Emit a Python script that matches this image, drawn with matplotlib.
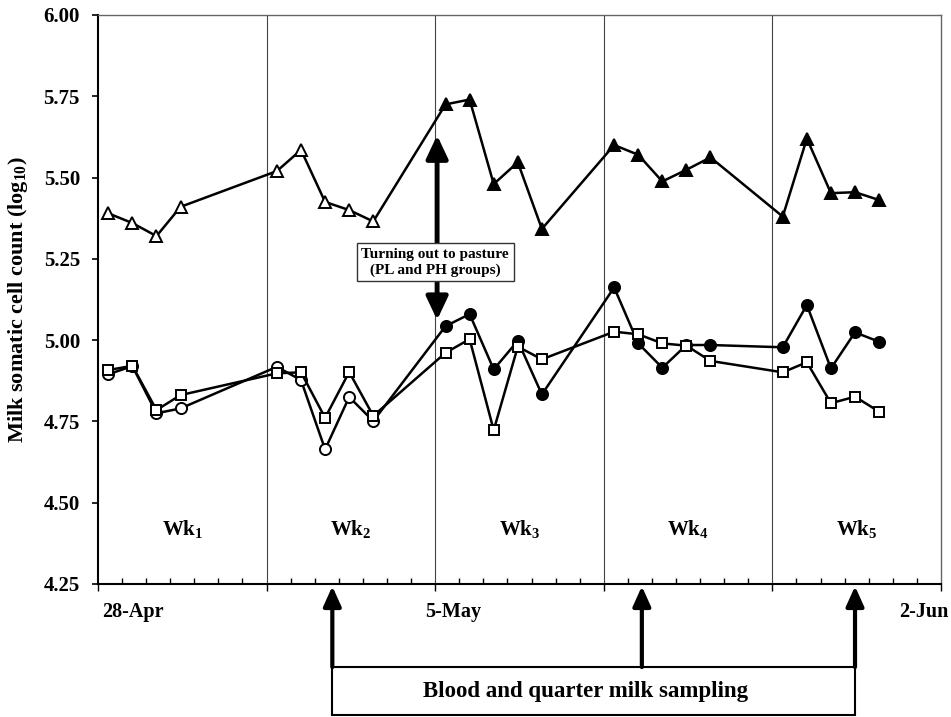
import numpy as np
import matplotlib
matplotlib.use('Agg')
import matplotlib.pyplot as plt
from matplotlib.patches import Rectangle

plt.rcParams['font.family'] = ['Liberation Serif', 'DejaVu Serif']
plt.rcParams['font.weight'] = 'bold'
plt.rcParams['mathtext.fontset'] = 'custom'
plt.rcParams['mathtext.rm'] = 'Liberation Serif:bold'
plt.rcParams['mathtext.bf'] = 'Liberation Serif:bold'
plt.rcParams['mathtext.it'] = 'Liberation Serif:bold'

# sampling days (days after start of trial)
days = [0, 1, 2, 3, 7, 8, 9, 10, 11, 14, 15, 16, 17, 18, 21, 22, 23, 24, 25, 28, 29, 30, 31, 32]

triangles = [5.39, 5.36, 5.32, 5.41, 5.52, 5.585, 5.425, 5.40, 5.365,
             5.725, 5.74, 5.48, 5.547, 5.342,
             5.60, 5.57, 5.488, 5.524, 5.562,
             5.38, 5.62, 5.452, 5.455, 5.431]
circles = [4.895, 4.92, 4.775, 4.79, 4.918, 4.877, 4.664, 4.825, 4.751,
           5.043, 5.08, 4.91, 4.998, 4.833,
           5.162, 4.99, 4.915, 4.985, 4.985,
           4.978, 5.108, 4.913, 5.024, 4.995]
squares = [4.908, 4.921, 4.785, 4.831, 4.898, 4.901, 4.761, 4.902, 4.767,
           4.961, 5.003, 4.723, 4.98, 4.941,
           5.026, 5.018, 4.99, 4.983, 4.936,
           4.901, 4.932, 4.806, 4.826, 4.78]

turnout_day = 13.65
turnout_span = [5.062, 5.63]
sampling_days = [9.3, 22.15, 31.0]

week_labels = ['Wk$_1$', 'Wk$_2$', 'Wk$_3$', 'Wk$_4$', 'Wk$_5$']
date_labels = ['28-Apr', '5-May', '2-Jun']
date_label_pos = [1.0, 14.3, 33.85]

x0 = -0.43
xmax = x0 + 35
week_edges = [x0 + 7 * k for k in range(6)]

fig = plt.figure(figsize=(9.51, 7.17), dpi=100)
ax = fig.add_axes([0.1030, 0.1855, 0.8865, 0.7936])

for edge in week_edges[1:-1]:
    ax.axvline(edge, color='#444444', lw=0.8, zorder=1)

days_arr = np.array(days)
after = days_arr > turnout_day

# triangle series
ax.plot(days, triangles, color='black', lw=1.8, zorder=3)
ax.plot(days_arr[~after], np.array(triangles)[~after], ls='none', marker='^', ms=9,
        mfc='white', mec='black', mew=1.4, zorder=4)
ax.plot(days_arr[after], np.array(triangles)[after], ls='none', marker='^', ms=9,
        mfc='black', mec='black', mew=1.4, zorder=4)

# circle series
ax.plot(days, circles, color='black', lw=1.8, zorder=3)
ax.plot(days_arr[~after], np.array(circles)[~after], ls='none', marker='o', ms=8,
        mfc='white', mec='black', mew=1.4, zorder=4)
ax.plot(days_arr[after], np.array(circles)[after], ls='none', marker='o', ms=8,
        mfc='black', mec='black', mew=1.4, zorder=4)

# square series
ax.plot(days, squares, color='black', lw=1.8, zorder=5)
ax.plot(days, squares, ls='none', marker='s', ms=7.5,
        mfc='white', mec='black', mew=1.4, zorder=6)

ax.set_xlim(x0, xmax)
ax.set_ylim(4.25, 6.00)
ax.set_yticks(np.arange(4.25, 6.01, 0.25))
ax.set_yticklabels(['%.2f' % v for v in np.arange(4.25, 6.01, 0.25)])
ax.tick_params(axis='y', direction='out', length=4, width=1.2, labelsize=15, pad=9)

ax.set_xticks(week_edges)
ax.set_xticklabels([])
ax.set_xticks(np.arange(x0, xmax + 0.01, 1), minor=True)
ax.tick_params(axis='x', which='major', direction='out', length=5, width=1)
ax.tick_params(axis='x', which='minor', direction='in', length=4, width=1)

for lbl, pos in zip(date_labels, date_label_pos):
    ax.text(pos, -0.049, lbl, transform=ax.get_xaxis_transform(), ha='center', va='center',
            fontsize=14.5, fontweight='bold')

for i, lbl in enumerate(week_labels):
    cx = (week_edges[i] + week_edges[i + 1]) / 2
    ax.text(cx, 4.42, lbl, ha='center', va='center', fontsize=15, fontweight='bold')

ax.set_ylabel('Milk somatic cell count (log$_{10}$)', fontsize=16, fontweight='bold')
ax.yaxis.set_label_coords(-0.081, 0.5)

for s in ['left', 'bottom']:
    ax.spines[s].set_linewidth(1.5)
for s in ['top', 'right']:
    ax.spines[s].set_linewidth(1.0)
    ax.spines[s].set_color('#666666')

# turning-out arrow and label
ax.annotate('', xy=(turnout_day, turnout_span[0]), xytext=(turnout_day, turnout_span[1]),
            arrowprops=dict(arrowstyle='<|-|>,head_length=0.7,head_width=0.33', lw=3.5,
                            color='black', shrinkA=0, shrinkB=0, mutation_scale=20), zorder=7)
ax.text(turnout_day - 0.08, 5.24, 'Turning out to pasture\n(PL and PH groups)', ha='center',
        va='center', fontsize=11, fontweight='bold', linespacing=1.25, zorder=8,
        bbox=dict(boxstyle='square,pad=0.3', fc='white', ec='#333333', lw=1))

# sampling arrows and box below the axis
trans = ax.get_xaxis_transform()
box_top, box_bottom = -0.146, -0.231
for d in sampling_days:
    ax.annotate('', xy=(d, -0.004), xytext=(d, box_top), xycoords=trans,
                arrowprops=dict(arrowstyle='-|>,head_length=0.6,head_width=0.27', lw=3,
                                color='black', shrinkA=0, shrinkB=0, mutation_scale=20),
                annotation_clip=False)
ax.add_patch(Rectangle((sampling_days[0], box_bottom), sampling_days[-1] - sampling_days[0],
                       box_top - box_bottom, transform=trans, fill=False, ec='black', lw=1.5,
                       clip_on=False))
ax.text(19.8, (box_top + box_bottom) / 2, 'Blood and quarter milk sampling', transform=trans,
        ha='center', va='center', fontsize=16.5, fontweight='bold')

fig.savefig('out.png', dpi=100)
